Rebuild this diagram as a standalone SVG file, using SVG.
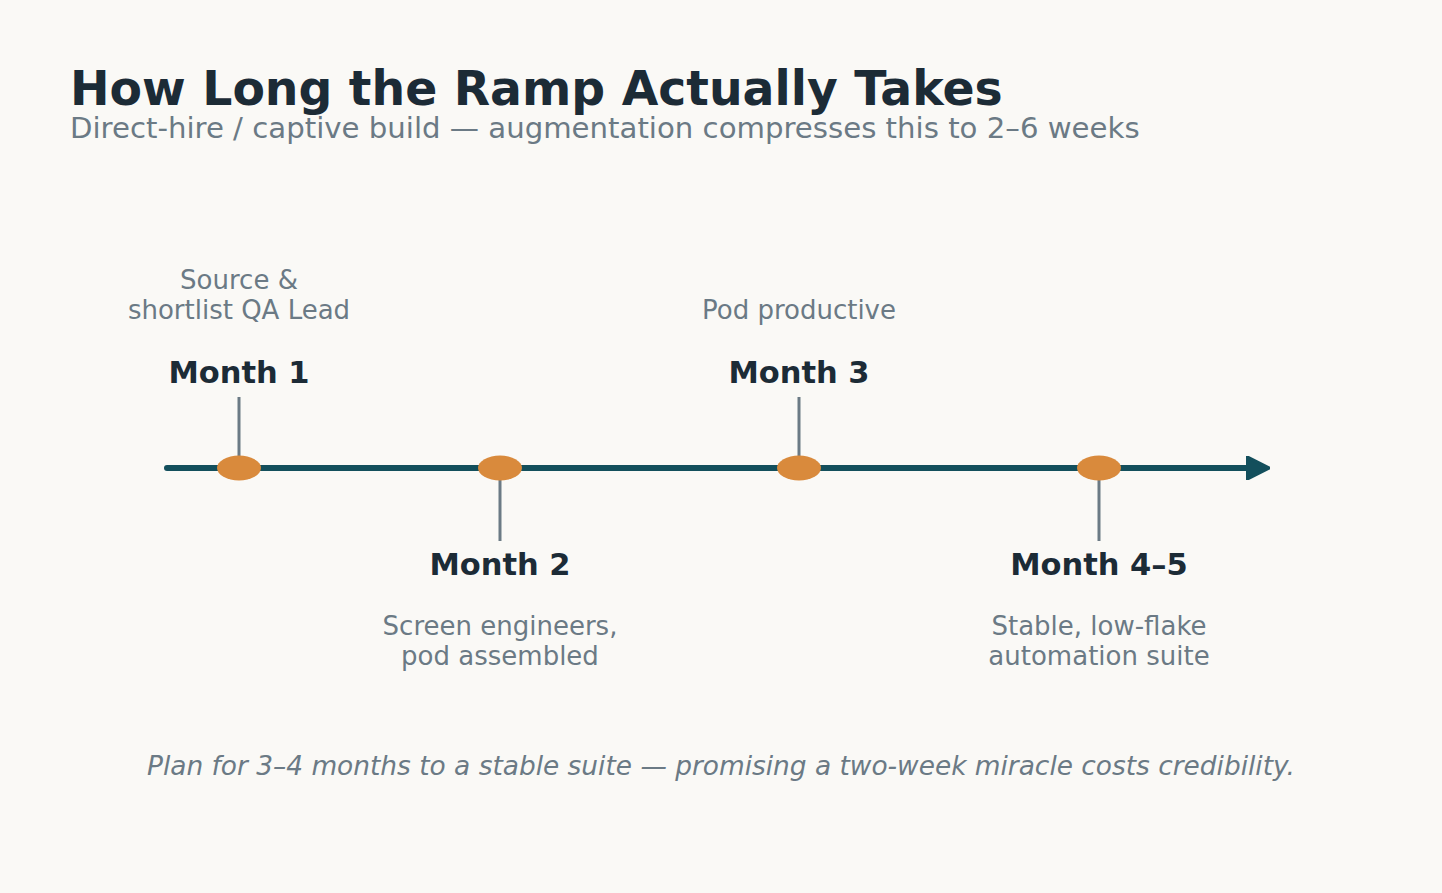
<svg xmlns="http://www.w3.org/2000/svg" width="1442" height="893" viewBox="0 0 1442 893">
<defs>
<style>
text{font-family:"DejaVu Sans","Liberation Sans",sans-serif}
.title{font-size:47.3px;font-weight:bold;fill:#1c2b36}
.sub{font-size:29.2px;fill:#6b7a85}
.lbl{font-size:30.5px;font-weight:bold;fill:#1c2b36;text-anchor:middle}
.desc{font-size:26px;fill:#6b7a85;text-anchor:middle}
.foot{font-size:26.4px;font-style:italic;fill:#6b7a85;text-anchor:middle}
.tick{stroke:#6b7a85;stroke-width:3}
.dot{fill:#d98a3c}
</style>
<marker id="arr" viewBox="0 0 10 10" refX="5" refY="5" markerWidth="4" markerHeight="4" orient="auto" markerUnits="strokeWidth">
<path d="M0.5,0.5 L9.5,5 L0.5,9.5 Z" fill="#134f5c" stroke="#134f5c" stroke-width="1.5" stroke-linejoin="round"/>
</marker>
</defs>
<rect width="1442" height="893" fill="#faf9f6"/>
<text class="title" x="70" y="105">How Long the Ramp Actually Takes</text>
<text class="sub" x="70" y="138">Direct-hire / captive build — augmentation compresses this to 2–6 weeks</text>
<g id="connectors">
<line x1="167" y1="468" x2="1258" y2="468" stroke="#134f5c" stroke-width="6" stroke-linecap="round" marker-end="url(#arr)"/>
<line class="tick" x1="239" y1="397" x2="239" y2="462"/>
<line class="tick" x1="500" y1="474" x2="500" y2="541"/>
<line class="tick" x1="799" y1="397" x2="799" y2="462"/>
<line class="tick" x1="1099" y1="474" x2="1099" y2="541"/>
</g>
<g id="m1">
<ellipse class="dot" cx="239" cy="468" rx="22" ry="12.5"/>
<text class="lbl" x="239" y="383">Month 1</text>
<text class="desc" x="239" y="289">Source &amp;</text>
<text class="desc" x="239" y="319">shortlist QA Lead</text>
</g>
<g id="m2">
<ellipse class="dot" cx="500" cy="468" rx="22" ry="12.5"/>
<text class="lbl" x="500" y="575">Month 2</text>
<text class="desc" x="500" y="635">Screen engineers,</text>
<text class="desc" x="500" y="665">pod assembled</text>
</g>
<g id="m3">
<ellipse class="dot" cx="799" cy="468" rx="22" ry="12.5"/>
<text class="lbl" x="799" y="383">Month 3</text>
<text class="desc" x="799" y="319">Pod productive</text>
</g>
<g id="m4">
<ellipse class="dot" cx="1099" cy="468" rx="22" ry="12.5"/>
<text class="lbl" x="1099" y="575">Month 4–5</text>
<text class="desc" x="1099" y="635">Stable, low-flake</text>
<text class="desc" x="1099" y="665">automation suite</text>
</g>
<text class="foot" x="721" y="775">Plan for 3–4 months to a stable suite — promising a two-week miracle costs credibility.</text>
</svg>
